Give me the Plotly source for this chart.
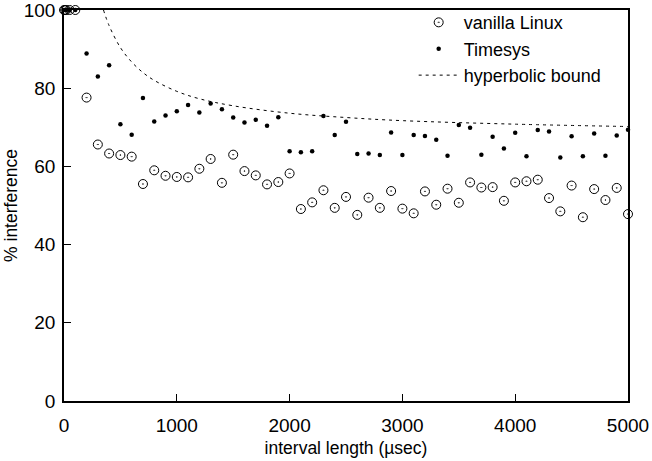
import plotly.graph_objects as go

# vanilla Linux (open circles with center dot)
vanilla_x = [0, 10, 20, 50, 100] + list(range(200, 5001, 100))
vanilla_y = [100, 100, 100, 100, 100,
             77.6, 65.6, 63.3, 62.9, 62.5, 55.5, 59.0, 57.6, 57.3, 57.2,
             59.4, 61.9, 55.8, 63.0, 58.8, 57.7, 55.4, 56.0, 58.2, 49.1,
             50.8, 53.9, 49.4, 52.2, 47.6, 52.0, 49.4, 53.7, 49.2, 48.0,
             53.6, 50.2, 54.3, 50.7, 55.9, 54.6, 54.7, 51.2, 55.9, 56.2,
             56.6, 51.9, 48.5, 55.1, 47.0, 54.2, 51.4, 54.5, 47.8]

# Timesys (small filled dots)
timesys_x = [0, 10, 20, 50, 100] + list(range(200, 5001, 100))
timesys_y = [100, 100, 100, 100, 100,
             88.9, 83.0, 85.9, 70.8, 68.1, 77.5, 71.5, 73.0, 74.1, 75.7,
             73.8, 76.1, 74.6, 72.5, 71.2, 71.9, 70.4, 72.6, 63.9, 63.6,
             63.9, 72.9, 68.0, 71.4, 63.2, 63.3, 62.9, 68.7, 62.9, 68.0,
             67.8, 66.8, 62.7, 70.6, 69.9, 63.0, 67.6, 64.6, 68.6, 62.6,
             69.3, 68.9, 62.3, 67.7, 62.6, 68.4, 62.7, 67.9, 69.4]

# hyperbolic bound
bound_x = [350, 400, 500, 600, 700, 800, 1000, 1200, 1500, 2000, 2500, 3000, 4000, 5000]
bound_y = [100, 96.0, 90.4, 86.7, 84.0, 82.0, 79.2, 77.3, 75.5, 73.6, 72.5, 71.7, 70.8, 70.2]

x_ticks = [0, 1000, 2000, 3000, 4000, 5000]
y_ticks = [0, 20, 40, 60, 80, 100]

FONT = "Liberation Sans, Arial, Helvetica, sans-serif"

fig = go.Figure()
fig.add_trace(go.Scatter(
    x=vanilla_x, y=vanilla_y, mode="markers", name="vanilla Linux",
    marker=dict(symbol="circle-open-dot", size=9, color="black", line=dict(width=1, color="black")),
    cliponaxis=False))
fig.add_trace(go.Scatter(
    x=timesys_x, y=timesys_y, mode="markers", name="Timesys",
    marker=dict(symbol="circle", size=4.5, color="black"),
    cliponaxis=False))
fig.add_trace(go.Scatter(
    x=bound_x, y=bound_y, mode="lines", name="hyperbolic bound",
    line=dict(color="black", width=1, dash="3px,4px", shape="spline", smoothing=1.0)))

axis_common = dict(
    showgrid=False, zeroline=False, showline=True, mirror=True,
    linecolor="black", linewidth=1.5, ticks="inside", ticklen=7,
    tickwidth=1, tickcolor="black", automargin=False,
    ticklabeloverflow="allow",
    tickfont=dict(family=FONT, size=19, color="black"),
)

fig.update_layout(
    width=652, height=461,
    margin=dict(l=64, r=24, t=10, b=60, autoexpand=False),
    paper_bgcolor="white", plot_bgcolor="white",
    font=dict(family=FONT, size=18, color="black"),
    xaxis=dict(range=[0, 5000], tickvals=x_ticks, ticklabelstandoff=6,
               title=dict(text="interval length (µsec)", standoff=7,
                          font=dict(family=FONT, size=17.5)),
               **axis_common),
    yaxis=dict(range=[0, 100], tickvals=y_ticks, ticklabelstandoff=3,
               title=dict(text="% interference", standoff=2,
                          font=dict(family=FONT, size=17.5)),
               **axis_common),
    legend=dict(x=0.62, y=1.015, xanchor="left", yanchor="top",
                bgcolor="rgba(0,0,0,0)", borderwidth=0,
                font=dict(family=FONT, size=18), tracegroupgap=0,
                itemwidth=40),
    showlegend=True,
)

fig.write_html("out.html")
